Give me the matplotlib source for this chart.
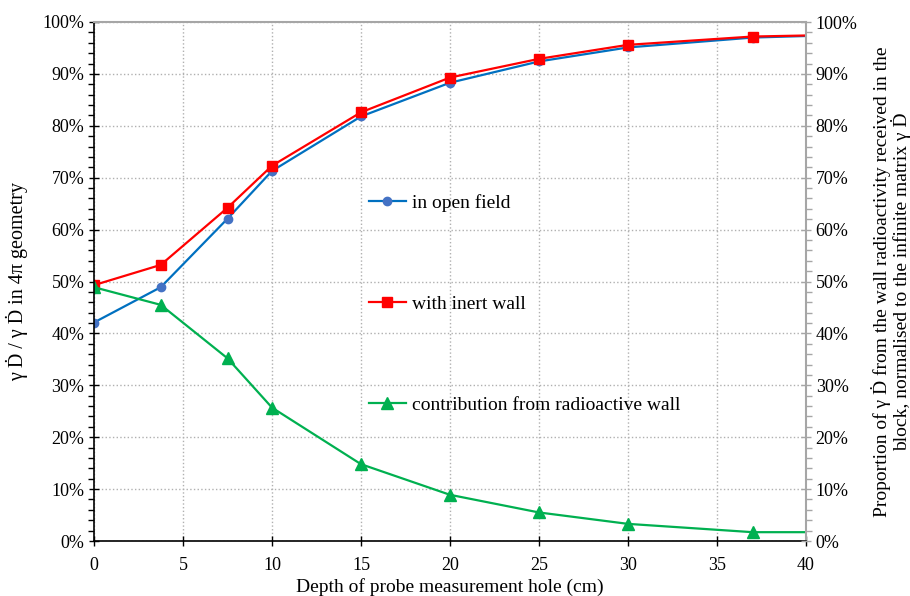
import matplotlib
matplotlib.use("Agg")
import matplotlib.pyplot as plt
from matplotlib.ticker import MultipleLocator, PercentFormatter

plt.rcParams['font.family'] = ['Liberation Serif', 'DejaVu Serif']
plt.rcParams['mathtext.fontset'] = 'stix'

depth = [0, 3.75, 7.5, 10, 15, 20, 25, 30, 37, 40]
open_field = [42.1, 48.9, 62.1, 71.3, 81.8, 88.3, 92.4, 95.1, 97.0, 97.3]
inert_wall = [49.3, 53.2, 64.2, 72.3, 82.6, 89.3, 92.9, 95.6, 97.2, 97.4]
radio_wall = [48.9, 45.5, 35.2, 25.7, 14.8, 8.9, 5.5, 3.3, 1.7, 1.7]
labels = ["in open field", "with inert wall", "contribution from radioactive wall"]
xticks = [0, 5, 10, 15, 20, 25, 30, 35, 40]

W, H = 910, 596
fig = plt.figure(figsize=(W / 100, H / 100), dpi=100)
ax = fig.add_axes([94 / W, 1 - 541 / H, (806 - 94) / W, (541 - 22) / H])

mk = list(range(len(depth) - 1))
l1, = ax.plot(depth, open_field, color='#0070C0', lw=1.6, marker='o', ms=6,
              mfc='#4472C4', mec='#4472C4', markevery=mk, label=labels[0])
l2, = ax.plot(depth, inert_wall, color='#FF0000', lw=1.6, marker='s', ms=7,
              mfc='#FF0000', mec='#FF0000', markevery=mk, label=labels[1])
l3, = ax.plot(depth, radio_wall, color='#00B050', lw=1.6, marker='^', ms=8,
              mfc='#00B050', mec='#00B050', markevery=mk, label=labels[2])

ax.set_xlim(0, 40)
ax.set_ylim(0, 100)
ax.set_xticks(xticks)
ax.yaxis.set_major_locator(MultipleLocator(10))
ax.yaxis.set_minor_locator(MultipleLocator(2))
ax.yaxis.set_major_formatter(PercentFormatter(decimals=0))
ax.grid(True, which='major', color='#b0b0b0', linestyle=':', linewidth=1.0)
ax.set_axisbelow(True)

for s in ['left', 'bottom']:
    ax.spines[s].set_color('black')
    ax.spines[s].set_linewidth(1.2)
for s in ['top', 'right']:
    ax.spines[s].set_color('#a6a6a6')
    ax.spines[s].set_linewidth(1.5)

ax.tick_params(axis='both', which='major', labelsize=13, direction='inout', length=7, width=1)
ax.tick_params(axis='x', which='major', pad=8)
ax.tick_params(axis='y', which='minor', direction='out', length=4, width=1)

ax2 = ax.twinx()
ax2.set_ylim(0, 100)
ax2.yaxis.set_major_locator(MultipleLocator(10))
ax2.yaxis.set_minor_locator(MultipleLocator(2))
ax2.yaxis.set_major_formatter(PercentFormatter(decimals=0))
ax2.tick_params(axis='y', which='major', labelsize=13, direction='inout', length=7,
                width=1, color='#a6a6a6')
ax2.tick_params(axis='y', which='minor', direction='out', length=4, width=1, color='#a6a6a6')
for s in ax2.spines.values():
    s.set_visible(False)

ax.set_xlabel("Depth of probe measurement hole (cm)", fontsize=14, labelpad=3)
ax.set_ylabel("γ Ḋ / γ Ḋ in 4π geometry", fontsize=14.5, labelpad=10)
ax2.set_ylabel("Proportion of γ Ḋ from the wall radioactivity received in the\n"
               "block, normalised to the infinite matrix γ Ḋ", fontsize=14, labelpad=10,
               linespacing=1.0)

leg = ax.legend(handles=[l1, l2, l3], loc='upper left',
                bbox_to_anchor=(361 / W, 1 - 186 / H), bbox_transform=fig.transFigure,
                frameon=False, fontsize=14, handlelength=1.9, handletextpad=0.3,
                labelspacing=4.3, borderaxespad=0)

fig.savefig("out.png", dpi=100)
